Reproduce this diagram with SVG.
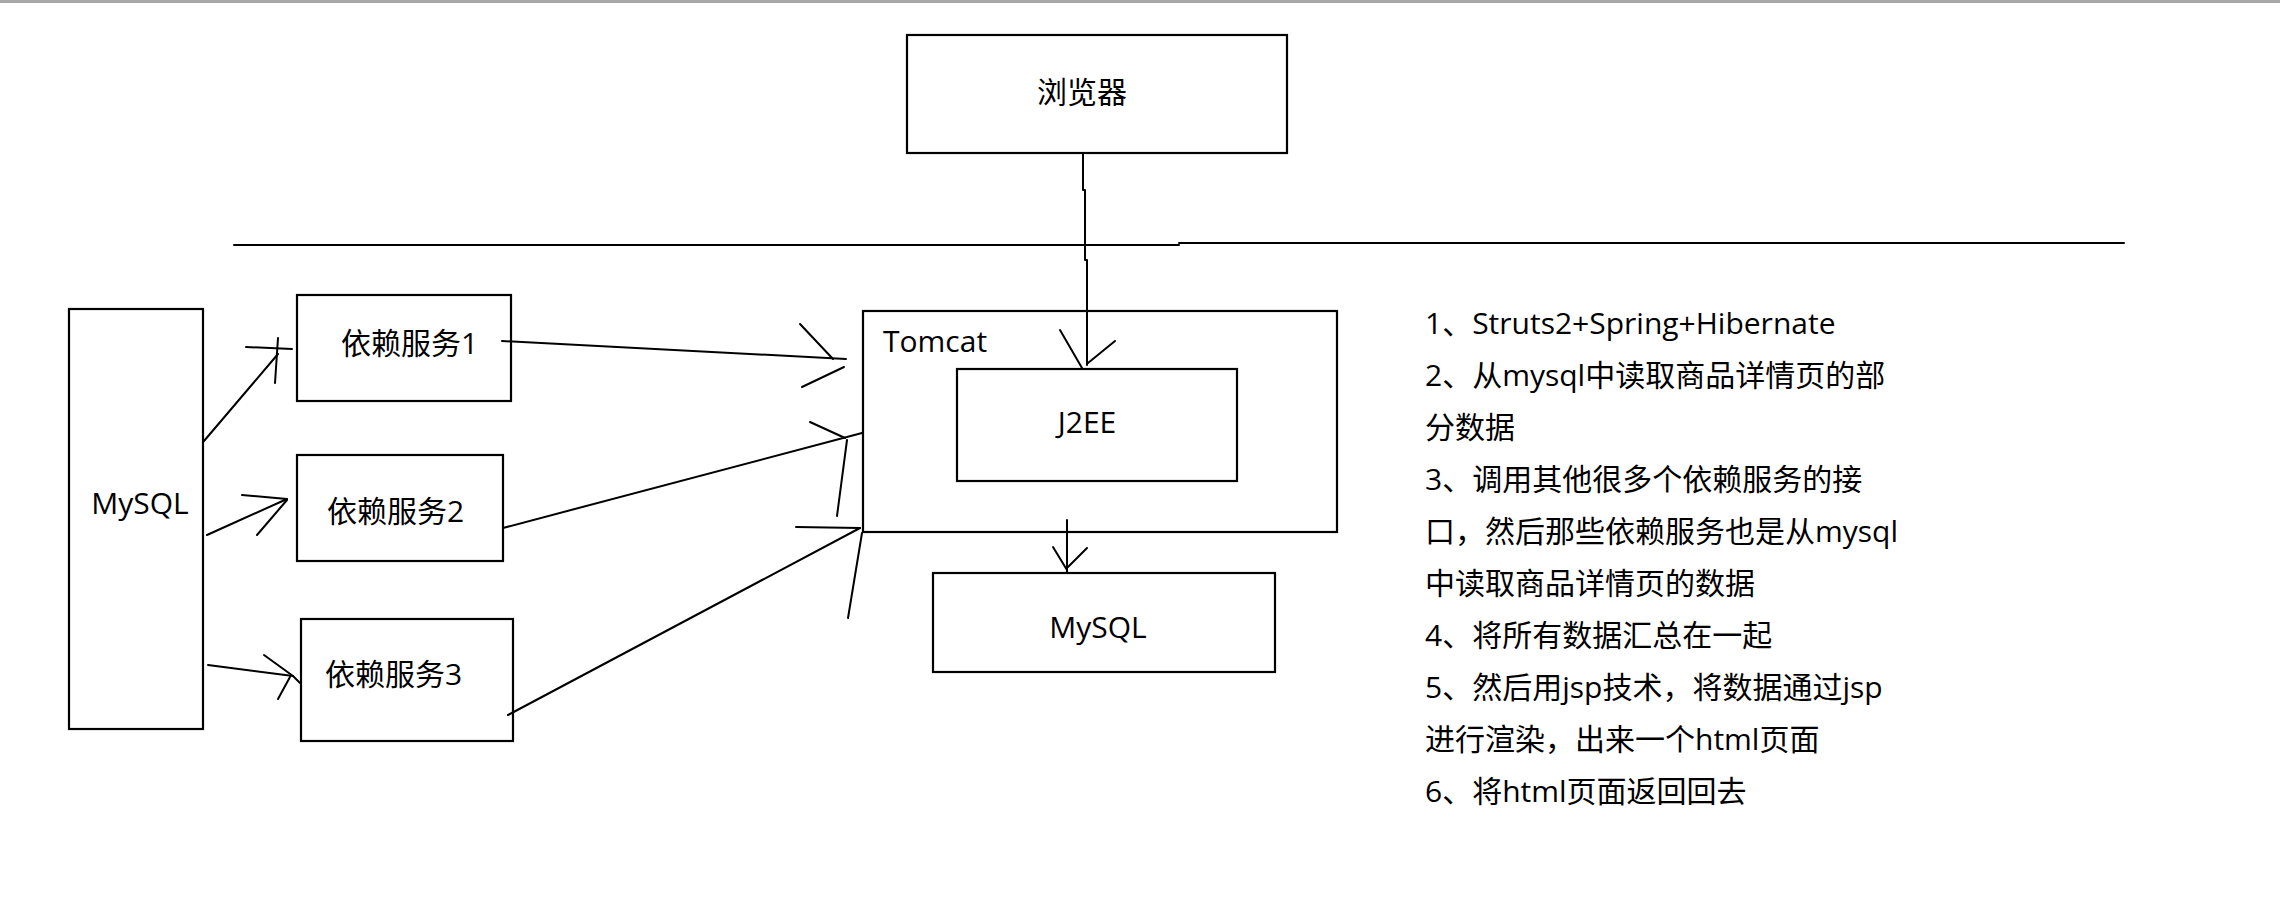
<svg xmlns="http://www.w3.org/2000/svg" width="2280" height="910" viewBox="0 0 2280 910">
<style>
.box{fill:#fff;stroke:#000;stroke-width:2.2}
.t{font-family:"Open Sans","Noto Sans CJK SC",sans-serif;font-size:30px;fill:#000}
.c{text-anchor:middle}
.ln{fill:none;stroke:#000;stroke-width:2;stroke-linecap:round;stroke-linejoin:round}
</style>
<rect x="0" y="0" width="2280" height="910" fill="#fff"/>
<line x1="0" y1="1.5" x2="2280" y2="1.5" stroke="#a8a8a8" stroke-width="3"/>
<g id="separator">
<line class="ln" x1="234" y1="245" x2="1179" y2="245"/>
<line class="ln" x1="1179" y1="243" x2="2124" y2="243"/>
</g>
<g id="browser">
<rect class="box" x="907" y="35" width="380" height="118"/>
<text class="t c" x="1082" y="103">浏览器</text>
</g>
<g id="mysql-left">
<rect class="box" x="69" y="309" width="134" height="420"/>
<text class="t c" x="140" y="514">MySQL</text>
</g>
<g id="service1">
<rect class="box" x="297" y="295" width="214" height="106"/>
<text class="t" x="341" y="354">依赖服务1</text>
</g>
<g id="service2">
<rect class="box" x="297" y="455" width="206" height="106"/>
<text class="t" x="327" y="522">依赖服务2</text>
</g>
<g id="service3">
<rect class="box" x="301" y="619" width="212" height="122"/>
<text class="t" x="325" y="685">依赖服务3</text>
</g>
<g id="tomcat">
<rect class="box" x="863" y="311" width="474" height="221"/>
<text class="t" x="883" y="352">Tomcat</text>
</g>
<g id="j2ee">
<rect class="box" x="957" y="369" width="280" height="112"/>
<text class="t c" x="1087" y="433">J2EE</text>
</g>
<g id="mysql-bottom">
<rect class="box" x="933" y="573" width="342" height="99"/>
<text class="t c" x="1098" y="638">MySQL</text>
</g>
<g id="connectors">
<!-- browser to J2EE -->
<polyline class="ln" points="1083,153 1083,190 1085,190 1085,260 1087,260 1087,365"/>
<line class="ln" x1="1060" y1="330" x2="1082" y2="368"/>
<line class="ln" x1="1115" y1="341" x2="1088" y2="363"/>
<!-- Tomcat to MySQL -->
<line class="ln" x1="1067" y1="520" x2="1067" y2="572"/>
<line class="ln" x1="1053" y1="547" x2="1067" y2="570"/>
<line class="ln" x1="1087" y1="548" x2="1068" y2="567"/>
<!-- MySQL to service1 -->
<line class="ln" x1="204" y1="441" x2="278" y2="354"/>
<line class="ln" x1="246" y1="347" x2="292" y2="349"/>
<line class="ln" x1="278" y1="338" x2="275" y2="383"/>
<!-- MySQL to service2 -->
<line class="ln" x1="207" y1="535" x2="287" y2="499"/>
<line class="ln" x1="242" y1="495" x2="287" y2="499"/>
<line class="ln" x1="257" y1="535" x2="287" y2="500"/>
<!-- MySQL to service3 -->
<line class="ln" x1="208" y1="665" x2="293" y2="676"/>
<line class="ln" x1="264" y1="655" x2="293" y2="676"/>
<line class="ln" x1="278" y1="699" x2="290" y2="677"/>
<line class="ln" x1="293" y1="676" x2="300" y2="683"/>
<!-- service1 to Tomcat -->
<line class="ln" x1="502" y1="341" x2="846" y2="359"/>
<line class="ln" x1="800" y1="324" x2="833" y2="359"/>
<line class="ln" x1="802" y1="387" x2="844" y2="367"/>
<!-- service2 to Tomcat -->
<line class="ln" x1="503" y1="528" x2="862" y2="433"/>
<line class="ln" x1="810" y1="422" x2="845" y2="438"/>
<line class="ln" x1="847" y1="440" x2="837" y2="516"/>
<!-- service3 to Tomcat -->
<line class="ln" x1="508" y1="715" x2="860" y2="528"/>
<line class="ln" x1="796" y1="527" x2="860" y2="528"/>
<line class="ln" x1="862" y1="533" x2="848" y2="618"/>
</g>
<g id="notes">
<text class="t" x="1425" y="334">1、Struts2+Spring+Hibernate</text>
<text class="t" x="1425" y="386">2、从mysql中读取商品详情页的部</text>
<text class="t" x="1425" y="438">分数据</text>
<text class="t" x="1425" y="490">3、调用其他很多个依赖服务的接</text>
<text class="t" x="1425" y="542">口，然后那些依赖服务也是从mysql</text>
<text class="t" x="1425" y="594">中读取商品详情页的数据</text>
<text class="t" x="1425" y="646">4、将所有数据汇总在一起</text>
<text class="t" x="1425" y="698">5、然后用jsp技术，将数据通过jsp</text>
<text class="t" x="1425" y="750">进行渲染，出来一个html页面</text>
<text class="t" x="1425" y="802">6、将html页面返回回去</text>
</g>
</svg>
